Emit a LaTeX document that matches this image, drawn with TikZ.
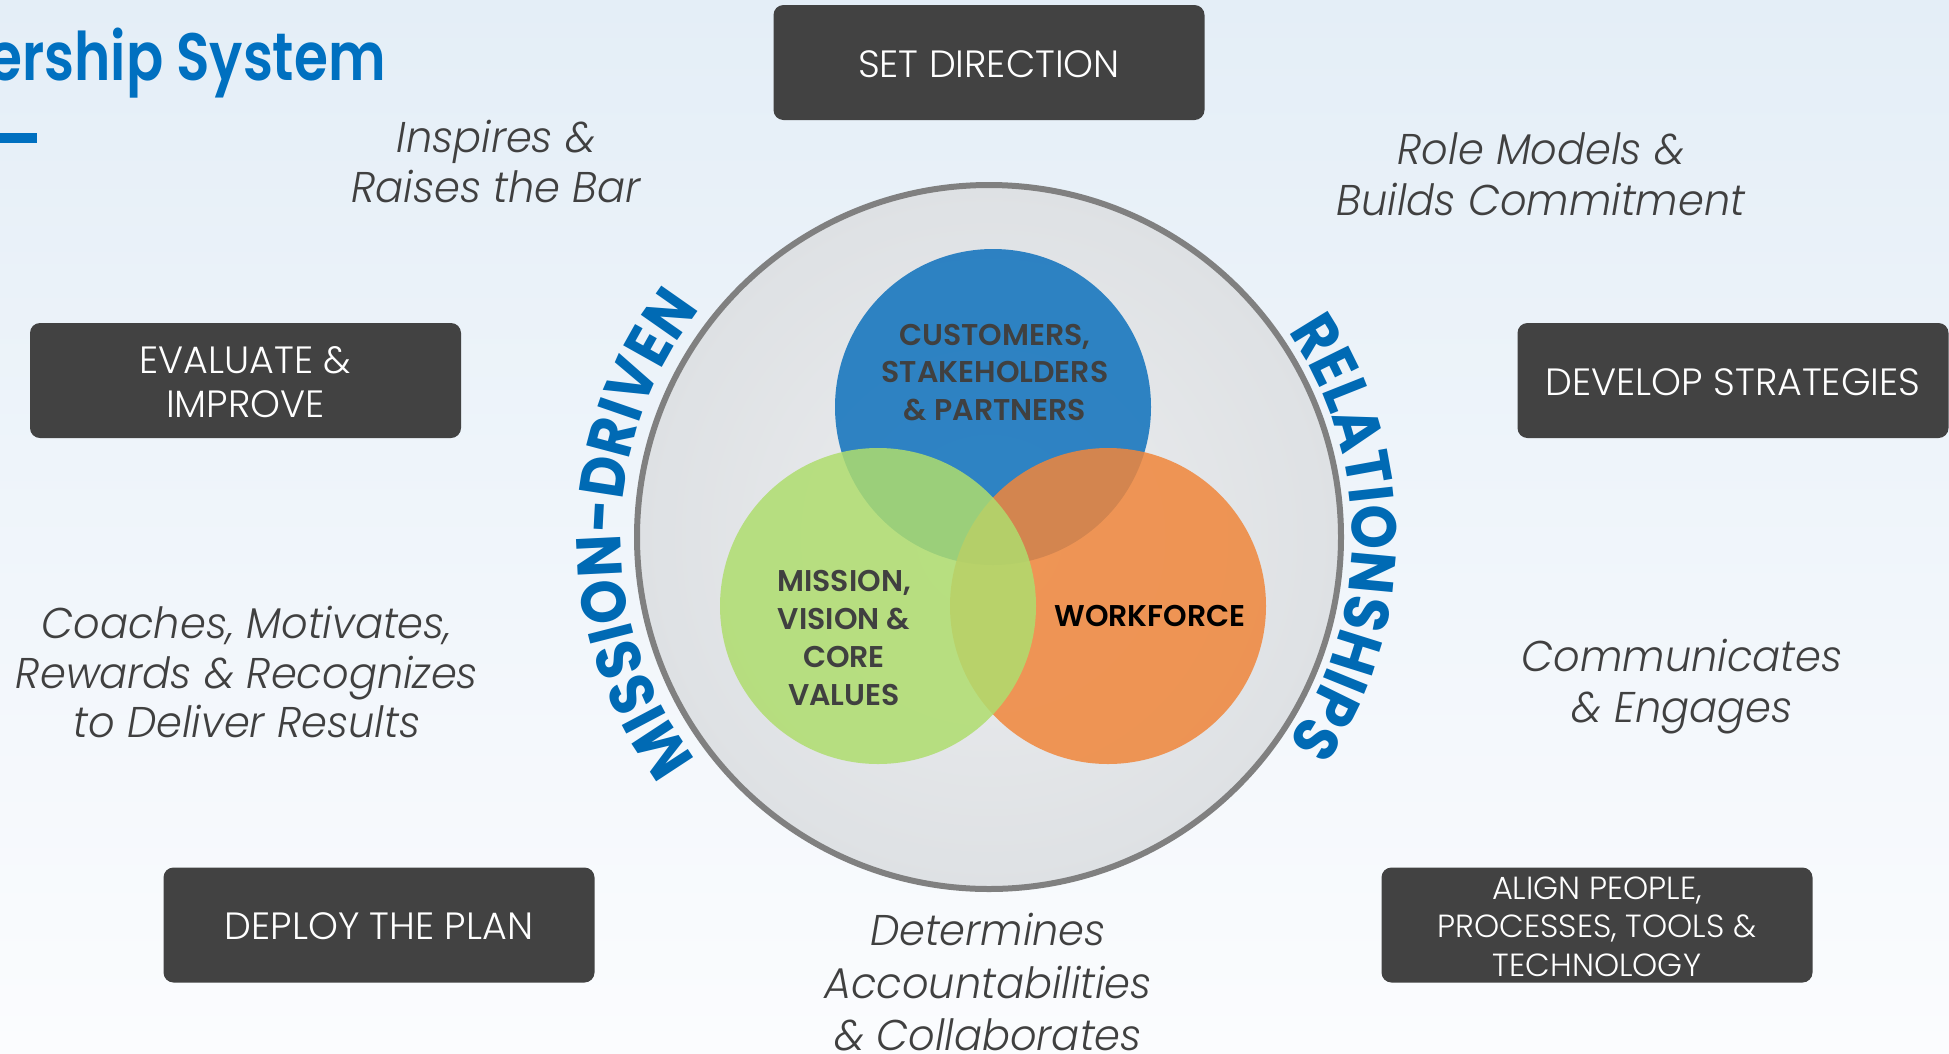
\documentclass[tikz,border=0pt]{standalone}
\usepackage{fontspec}
\setmainfont{Poppins}
\usetikzlibrary{decorations.text}
\IfFontExistsTF{Poppins Light}{\newfontfamily\boxfont{Poppins Light}}{\newcommand\boxfont{\normalfont}}
\IfFontExistsTF{Poppins Light Italic}{\newfontfamily\itfont[FakeStretch=0.965]{Poppins Light Italic}}{\newfontfamily\itfontA[FakeStretch=0.965]{Poppins}\newcommand\itfont{\itfontA\itshape}}
\IfFontExistsTF{Poppins SemiBold}{\newfontfamily\sbfont{Poppins SemiBold}\newfontfamily\titlefont[FakeStretch=0.82]{Poppins SemiBold}}{\newcommand\sbfont{\bfseries}\newfontfamily\titlefontA[FakeStretch=0.82]{Poppins}\newcommand\titlefont{\titlefontA\bfseries}}
\IfFontExistsTF{Poppins Bold}{\newfontfamily\arcfont[FakeStretch=0.9]{Poppins Bold}}{\newfontfamily\arcfontA[FakeStretch=0.9]{Poppins}\newcommand\arcfont{\arcfontA\bfseries}}
\definecolor{bgtop}{RGB}{228,238,247}
\definecolor{bgbot}{RGB}{251,252,254}
\definecolor{boxgray}{RGB}{66,66,66}
\definecolor{txtgray}{RGB}{64,64,64}
\definecolor{titleblue}{RGB}{0,112,192}
\definecolor{arcblue}{RGB}{0,106,180}
\definecolor{ringgray}{RGB}{128,128,128}
\definecolor{ringin}{RGB}{236,237,239}
\definecolor{ringout}{RGB}{222,225,228}
\definecolor{cblue}{RGB}{14,113,188}
\definecolor{cgreen}{RGB}{175,221,110}
\definecolor{corange}{RGB}{240,134,59}
\tikzset{
  darkbox/.style={rectangle, rounded corners=10pt, fill=boxgray, minimum width=431pt, minimum height=115pt, inner sep=0pt},
  boxtxt/.style={anchor=base, text=white, font=\boxfont\fontsize{38}{38}\selectfont, inner sep=0pt},
  smalltxt/.style={anchor=base, text=white, font=\boxfont\fontsize{32}{32}\selectfont, inner sep=0pt},
  ittxt/.style={anchor=base, text=txtgray, font=\itfont\fontsize{43}{43}\selectfont, inner sep=0pt},
  venn/.style={circle, minimum size=316pt, inner sep=0pt, fill opacity=0.85},
  venntxt/.style={anchor=base, text=txtgray, font=\sbfont\fontsize{30}{30}\selectfont, inner sep=0pt},
}
\begin{document}
\begin{tikzpicture}[x=1pt,y=-1pt]
\useasboundingbox (0,0) rectangle (1949,1053);
\shade[top color=bgtop, bottom color=bgbot] (0,0) rectangle (1949,1053);
% title
\node[anchor=base east, text=titleblue, font=\titlefont\fontsize{67}{67}\selectfont, inner sep=0pt] (title) at (386,80) {ership System};
\fill[titleblue] (0,133) rectangle (37,143);
% ring
\node[circle, minimum size=704pt, inner sep=0pt, draw=ringgray, line width=6pt, inner color=ringin, outer color=ringout] (ring) at (989,537) {};
% venn
\node[venn, fill=cblue] (cust) at (993,407) {};
\node[venn, fill=corange] (work) at (1108,606) {};
\node[venn, fill=cgreen] (miss) at (878,606) {};
\node[venntxt] (c1) at (995,345) {CUSTOMERS,};
\node[venntxt] (c2) at (995,382) {STAKEHOLDERS};
\node[venntxt] (c3) at (995,420) {\& PARTNERS};
\node[venntxt] (m1) at (844,591) {MISSION,};
\node[venntxt] (m2) at (844,629) {VISION \&};
\node[venntxt] (m3) at (844,667) {CORE};
\node[venntxt] (m4) at (844,705) {VALUES};
\node[venntxt, text=black] (w1) at (1150,626) {WORKFORCE};
% curved texts
\begin{scope}[shift={(989,537)}, y=1pt]
\path[decorate, decoration={text along path, text align=center,
  text={|\arcfont\fontsize{63}{63}\selectfont\color{arcblue}|MISSION-DRIVEN}}]
  (224.5:368) arc[start angle=224.5, end angle=134.5, radius=368];
\path[decorate, decoration={text along path, text align=center,
  text={|\arcfont\fontsize{63}{63}\selectfont\color{arcblue}|RELATIONSHIPS}}]
  (45:363) arc[start angle=45, end angle=-45, radius=363];
\end{scope}
% boxes
\node[darkbox] (setdir) at (989,62.5) {};
\node[boxtxt] (setdirT) at (989,77) {SET DIRECTION};
\node[darkbox] (evalb) at (245.5,380.5) {};
\node[boxtxt] (eval1) at (245.5,373) {EVALUATE \&};
\node[boxtxt] (eval2) at (245.5,417) {IMPROVE};
\node[darkbox] (devb) at (1733,380.5) {};
\node[boxtxt] (devT) at (1733,395) {DEVELOP STRATEGIES};
\node[darkbox] (depb) at (379,925) {};
\node[boxtxt] (depT) at (379,939.5) {DEPLOY THE PLAN};
\node[darkbox] (alib) at (1597,925) {};
\node[smalltxt] (ali1) at (1597,899) {ALIGN PEOPLE,};
\node[smalltxt] (ali2) at (1597,937.5) {PROCESSES, TOOLS \&};
\node[smalltxt] (ali3) at (1597,976) {TECHNOLOGY};
% italic phrases
\node[ittxt] (i1) at (496,152) {Inspires \&};
\node[ittxt] (i2) at (496,202) {Raises the Bar};
\node[ittxt] (r1) at (1541,164) {Role Models \&};
\node[ittxt] (r2) at (1541,215) {Builds Commitment};
\node[ittxt] (k1) at (247,638) {Coaches, Motivates,};
\node[ittxt] (k2) at (247,688) {Rewards \& Recognizes};
\node[ittxt] (k3) at (247,737) {to Deliver Results};
\node[ittxt] (e1) at (1682,671) {Communicates};
\node[ittxt] (e2) at (1682,722) {\& Engages};
\node[ittxt] (d1) at (988,945) {Determines};
\node[ittxt] (d2) at (988,998) {Accountabilities};
\node[ittxt] (d3) at (988,1050) {\& Collaborates};
\end{tikzpicture}
\end{document}
